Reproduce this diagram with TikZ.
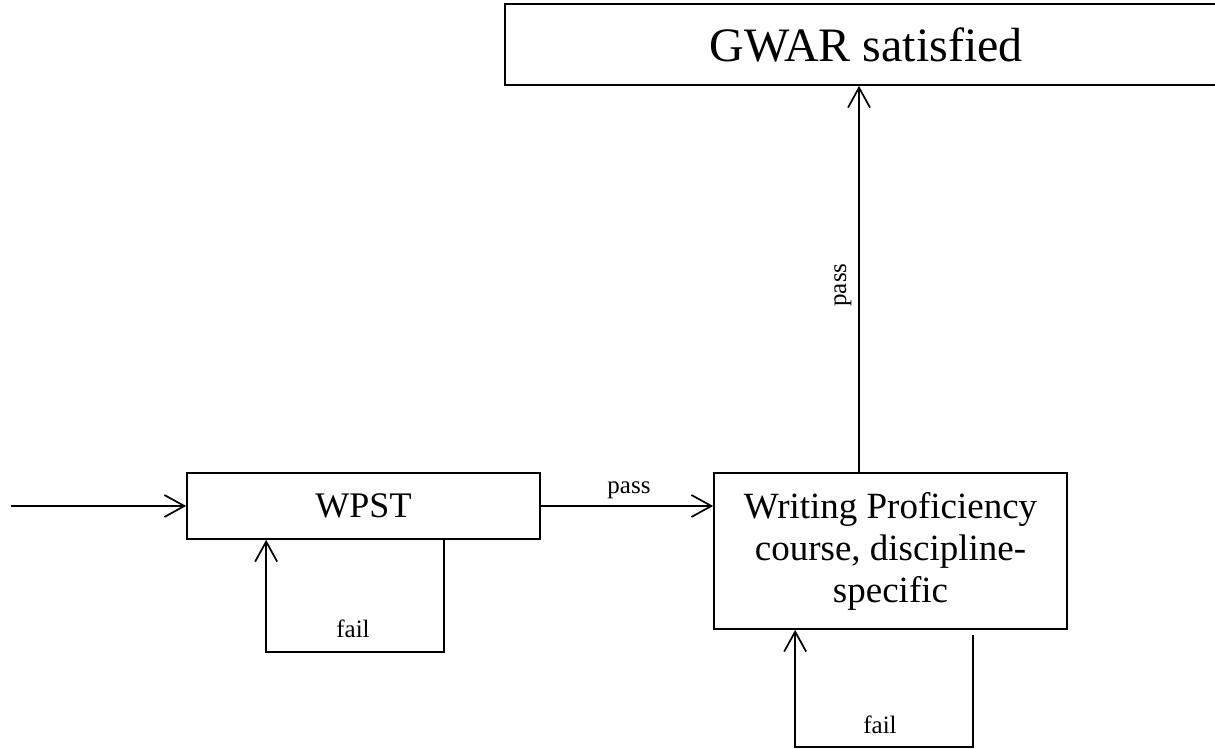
\documentclass[tikz,border=0pt]{standalone}
\usepackage{fontspec}
\setmainfont{Liberation Serif}
\usetikzlibrary{arrows.meta,calc}
\begin{document}
\begin{tikzpicture}[x=1pt,y=-1pt,
  line width=1.7pt,
  boxstyle/.style={draw,rectangle,inner sep=0pt,align=center},
  arr/.style={-{Straight Barb[length=20pt,width=22pt,line width=1.7pt]}},
  lbl/.style={font=\fontsize{25}{28}\selectfont,inner sep=0pt}]
\useasboundingbox (0,0) rectangle (1215,749);
\clip (0,0) rectangle (1215,749);
\node[boxstyle,minimum width=722pt,minimum height=81pt,font=\fontsize{48}{52}\selectfont] (gwar) at (866,44.5) {GWAR satisfied};
\node[boxstyle,minimum width=353pt,minimum height=66pt,font=\fontsize{36}{42}\selectfont] (wpst) at (363.5,506) {WPST};
\node[boxstyle,minimum width=353pt,minimum height=156pt,font=\fontsize{37}{42}\selectfont] (wpc) at (890.5,551) {Writing Proficiency\\course, discipline-\\specific};
\coordinate (start) at (11,506);
\draw[arr] (start) -- (wpst.west);
\draw[arr] (wpst.east) -- (wpst.east -| wpc.west);
\node[lbl,anchor=base] (passa) at (629,493) {pass};
\coordinate (wpctop) at ([xshift=-31.5pt]wpc.north);
\draw[arr] (wpctop) -- (wpctop |- gwar.south);
\node[lbl,rotate=90] (passb) at (843,285) {pass};
\coordinate (wl1) at ([xshift=-97pt]wpst.south east);
\coordinate (wl2) at ([xshift=80pt]wpst.south west);
\draw[arr] (wl1) -- ++(0,112) -| (wl2);
\node[lbl,anchor=base] (faila) at (353,637) {fail};
\coordinate (cl1) at ([xshift=-95pt,yshift=-5pt]wpc.south east);
\coordinate (cl2) at ([xshift=82pt]wpc.south west);
\draw[arr] (cl1) -- (cl1 |- 0,747) -| (cl2);
\node[lbl,anchor=base] (failb) at (880,733) {fail};
\end{tikzpicture}
\end{document}
